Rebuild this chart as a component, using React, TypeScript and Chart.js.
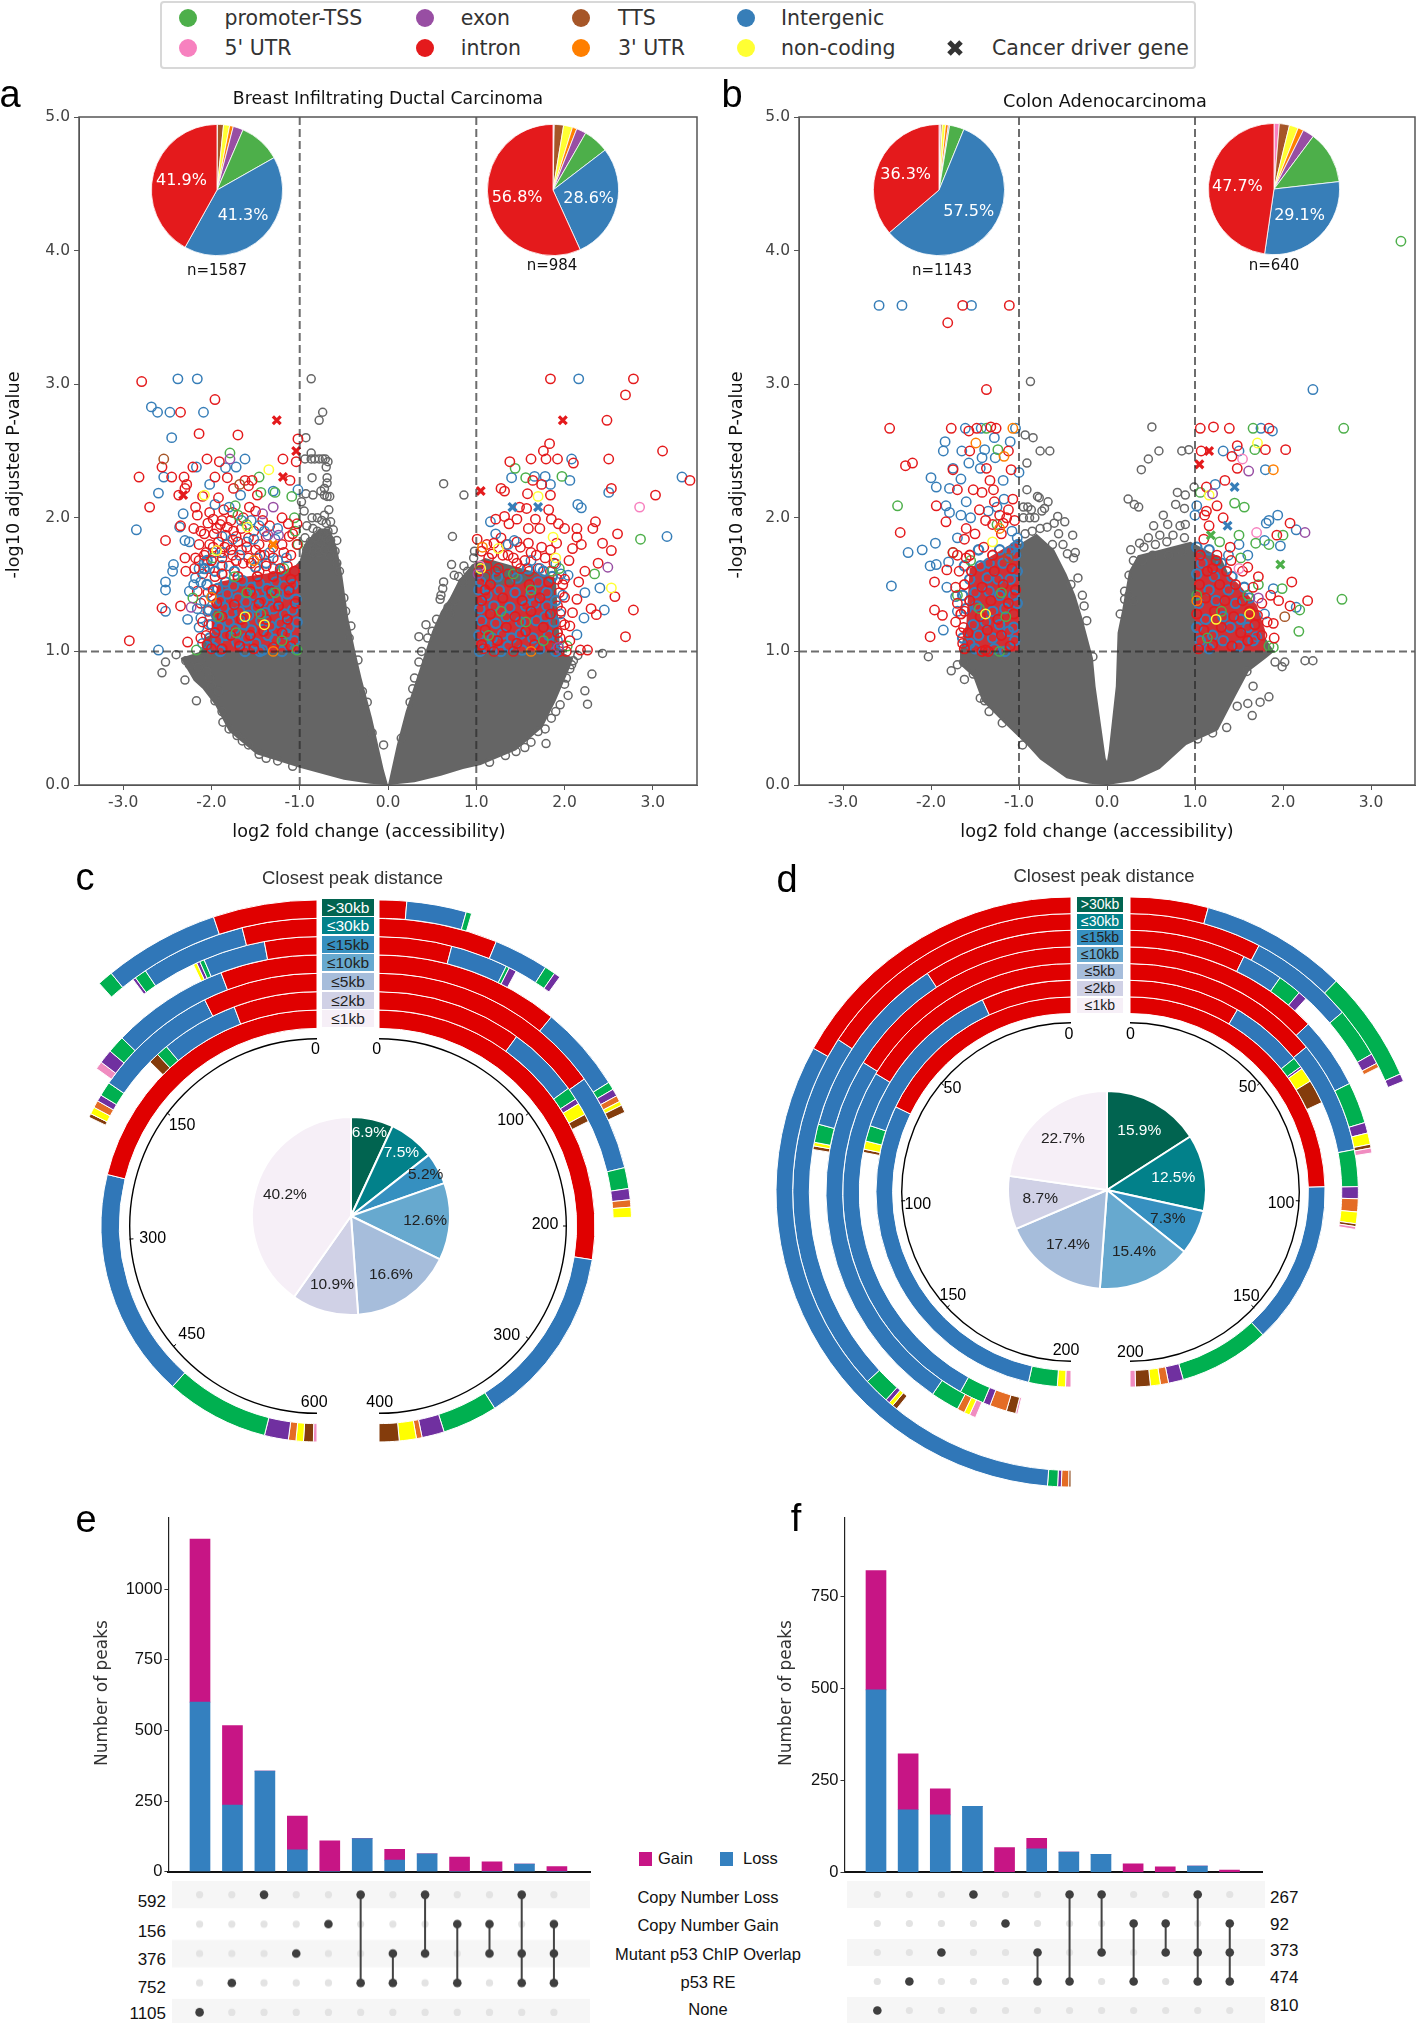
import React, { useEffect, useRef } from "react";
import { Chart, registerables } from "chart.js";
Chart.register(...registerables);

// ---------- colours ----------
const C = { green: "#4daf4a", purple: "#984ea3", brown: "#a65628", blue: "#377eb8", pink: "#f781bf", red: "#e41a1c", orange: "#ff7f00", yellow: "#ffff33", grey: "#666666" };
const pieOrder = [C.pink, C.brown, C.yellow, C.orange, C.purple, C.green, C.blue, C.red];

// ---------- volcano axes ----------
const xTicks = [-3, -2, -1, 0, 1, 2, 3];
const yTicks = [0, 1, 2, 3, 4, 5];

// ---------- panel a : grey mass outline (x,y pairs) ----------
const aLeftTop = [-2.35,.95,-2.12,1,-2.08,1.1,-1.5,1.3,-1,1.68,-.95,1.8,-.78,1.92,-.66,1.92,-.58,1.78,-.52,1.58,-.45,1.25,-.37,1,-.3,.8,-.18,.5,-.05,.12,0,0];
const aLeftLow = [-2.35,.95,-2.2,.78,-2.1,.72,-1.96,.6,-1.8,.4,-1.49,.23,-1,.13,-.5,.04,-.2,.01,0,0];
const aRightTop = [0,0,.1,.3,.2,.55,.3,.75,.4,.95,.5,1.15,.6,1.3,.7,1.4,.8,1.53,.95,1.65,1.1,1.7,1.9,1.55,1.95,1,2.1,.95];
const aRightLow = [0,0,.3,.02,.6,.07,.85,.12,1.05,.15,1.45,.26,1.75,.43,1.9,.63,2.06,.88,2.1,.95];
const aBlockL = [-2.0,1.3,-1.92,1.52,-1.6,1.56,-1.2,1.6,-1,1.66];
const aBlockLBase = [-2.0,1,-1,1];
const aBlockR = [1,1.58,1.2,1.5,1.5,1.5,1.7,1.58,1.86,1.5];
const aBlockRBase = [1,1,1.86,1];

const aGrey = [-.87,3.04,-.74,2.79,-.78,2.73,-.93,2.6,-.87,2.485,-.94,2.44,-.87,2.44,-.83,2.44,-.78,2.44,-.74,2.44,-.71,2.44,-.68,2.42,-.7,2.38,-.86,2.3,-.69,2.3,-.69,2.26,-.72,2.22,-.93,2.18,-.85,2.17,-.76,2.2,-.72,2.17,-.69,2.16,-.66,2.16,-.98,2.12,-.95,2.05,-.67,2.06,-.72,2.02,-.86,2,-.8,2,-.75,1.98,-.7,1.96,-.65,1.97,-.92,1.94,-.85,1.92,-.8,1.9,-.73,1.88,-.68,1.9,-.62,1.91,-.58,1.83,-.94,1.85,-.88,1.82,-.82,1.85,-.76,1.82,-.7,1.85,-.65,1.83,-.6,1.75,-.92,1.76,-.85,1.74,-.78,1.74,-.72,1.76,-.66,1.72,-.58,1.66,-.55,1.6,-.5,1.4,-.48,1.3,-.42,1.19,-.44,1.1,-.34,.935,-.29,.7,-.235,.62,-.18,.39,-.05,.3,
-2.4,.975,-2.52,.92,-2.56,.84,-2.3,.785,-2.17,.63,-2.29,.93,-2.25,.9,-2.12,.94,-2.15,.88,-2.05,.85,-2,.74,-2.02,.8,-1.96,.63,-1.92,.7,-1.88,.55,-1.87,.47,-1.8,.42,-1.71,.37,-1.65,.33,-1.58,.3,-1.46,.23,-1.38,.2,-1.25,.18,-1.08,.14,
.63,2.255,.86,2.17,.73,1.86,.72,1.65,.86,1.64,.97,1.7,.98,1.75,.63,1.52,.59,1.39,.76,1.38,.68,1.33,.55,1.24,.43,1.2,.35,1.11,.62,1.47,.6,1.42,.8,1.56,.75,1.57,.9,1.6,.85,1.52,.7,1.28,.5,1.15,.45,1.1,.38,1,.35,.92,.3,.8,.28,.72,.25,.62,.15,.35,2.43,.985,2.31,.83,2.23,.705,2.26,.605,1.79,.31,2,.755,2.04,.67,1.62,.32,2.08,.9,2.06,.87,2.1,.93,1.95,.6,1.9,.55,1.85,.5,1.78,.42,1.7,.4,1.55,.28,1.45,.25,1.33,.22,1.15,.17,2.15,.97,2.02,.8];

const aRed = [-2.79,3.02,-1.96,2.885,-2.35,2.79,-2.14,2.63,-1.7,2.62,-1.02,2.59,-2.56,2.38,-2.82,2.305,-2.45,2.305,-2.31,2.305,-2.21,2.38,-1.96,2.305,-2.05,2.44,-1.91,2.42,-1.19,2.44,-1.04,2.42,-2.7,2.08,-2.3,2.22,-2.37,2.17,-2.18,2.08,-2.52,1.83,-2.16,2.02,-2.35,1.94,-2.2,1.92,-1.98,1.99,-1.62,2.28,-1.54,2.28,-1.11,2.28,-1.57,2.08,-1.13,1.955,-1.03,1.955,-2.93,1.08,-2.56,1.325,-2.35,1.34,-2.27,1.07,-2.3,1.7,-2.29,1.6,-2.19,1.62,
-2.28,2.25,-2.1,2.16,-1.92,2.15,-1.82,2.3,-1.75,2.22,-1.58,2.24,-1.48,2.17,-1.5,2.05,-2.08,1.88,-1.94,1.92,-1.88,1.98,-1.82,1.93,-1.75,1.9,-1.7,1.82,-1.92,1.82,-2.02,1.8,-1.85,1.78,-1.78,1.76,-1.6,1.78,-1.45,1.72,-1.3,1.7,-1.1,1.72,-1.2,1.8,-1.03,1.8,-2.08,1.72,-2,1.68,-1.88,1.7,-1.72,1.68,-1.55,1.66,-1.38,1.64,-1.22,1.62,-1.06,1.6,
-2.1,1.22,-2.12,1.1,-2.05,1.05,-2,1.02,
1.84,3.04,2.78,3.04,2.69,2.92,2.48,2.73,1.83,2.555,1.76,2.5,1.62,2.44,1.79,2.44,1.92,2.44,1.38,2.42,2.1,2.41,2.5,2.44,3.11,2.5,3.42,2.28,2.53,2.22,3.03,2.17,1.64,2.28,1.74,2.25,1.28,2.22,1.32,2.2,1.58,2.18,1.84,2.17,1.49,2.08,1.57,2.07,1.82,2.06,1.32,2.01,1.22,1.99,1.46,1.99,1.37,1.955,1.67,1.99,1.85,1.99,1.93,1.955,2,1.92,2.14,1.92,2.35,1.97,2.32,1.92,2.6,1.88,1.59,1.92,1.72,1.92,2.14,1.855,2.19,1.8,1.91,1.81,1.59,1.81,1.2,1.81,1.01,1.84,2.43,1.81,2.53,1.755,2.09,1.77,2.05,1.68,2.38,1.66,2.23,1.6,2.16,1.52,2,1.54,2,1.405,2.14,1.39,2.57,1.41,2.3,1.32,2.36,1.275,2.78,1.31,2.69,1.11,2.09,1.29,2.06,1.19,2.06,1.08,2.18,1.01,2.26,1.01,
1.18,1.73,1.3,1.72,1.42,1.7,1.55,1.68,1.68,1.72,1.78,1.7,1.88,1.66,1.03,1.6,1.12,1.64,1.25,1.62,1.5,1.62,1.98,1.5,1.96,1.3,2,1.2,1.95,1.1,2.02,1,1.08,1.02,1.2,1,1.42,1];
const aMidRed = [-2.12,1.9,-2.04,1.96,-1.97,1.88,-1.9,1.95,-1.84,1.87,-1.78,1.98,-1.72,1.86,-1.66,1.92,-1.58,1.85,-1.52,1.9,-1.46,1.8,-1.38,1.86,-1.3,1.78,-1.18,1.74,-1.12,1.86,-2.14,1.8,-2.06,1.74,-1.98,1.78,-1.9,1.74,-1.82,1.8,-1.76,1.72,-1.66,1.76,-1.58,1.7,-1.5,1.76,-1.4,1.72,-2.14,1.68,-2.1,1.58,-2.16,1.45,-2.12,1.36,-2.18,1.7,-2.02,2.04,-1.86,2.06,-1.76,2.04,-1.64,2,-1.42,1.98,-1.34,1.94,-1.2,2,-1.08,1.88,-2.02,1.62,-1.96,1.56,-1.8,1.64,-1.64,1.66,-1.46,1.6,-1.3,1.62,-1.14,1.64,-2.04,1.44,-2.04,1.3,-2.03,1.2,-2.06,1.12,
1.1,1.56,1.22,1.6,1.36,1.58,1.46,1.66,1.6,1.6,1.7,1.62,1.84,1.6,1.92,1.54,1.94,1.44,1.92,1.34,1.96,1.22,1.94,1,1.98,1.04,1.14,1.7,1.36,1.72,1.5,1.78,1.62,1.74,1.74,1.78,1.84,1.76,1.34,1.8,1.46,1.82,1.28,1.85,1.06,1.75,1.12,1.8];
const aRedBlock = [-1.88,1.02,-1.68,1.04,-1.52,1.02,-1.3,1.03,-1.1,1.04,-1.96,1.14,-1.78,1.12,-1.56,1.12,-1.41,1.15,-1.2,1.14,-1.88,1.26,-1.66,1.24,-1.38,1.24,-1.14,1.24,-1.94,1.36,-1.74,1.35,-1.46,1.36,-1.24,1.34,-1.05,1.36,-1.98,1.46,-1.56,1.45,-1.32,1.45,-1.12,1.46,-1.88,1.58,-1.7,1.56,-1.48,1.56,-1.3,1.56,-1.1,1.54,
1.06,1.05,1.24,1.08,1.46,1.06,1.66,1.05,1.84,1.04,1.1,1.16,1.34,1.18,1.56,1.15,1.76,1.18,1.92,1.14,1.16,1.28,1.44,1.26,1.62,1.3,1.84,1.28,1.06,1.38,1.3,1.4,1.52,1.38,1.72,1.4,1.16,1.5,1.38,1.52,1.6,1.5,1.82,1.52,1.1,1.46];
const aBlue = [-2.38,3.04,-2.16,3.04,-2.68,2.83,-2.61,2.79,-2.47,2.79,-2.09,2.79,-2.45,2.6,-1.62,2.44,-2.54,2.305,-2.6,2.185,-2.85,1.91,-2.32,2.03,-2.36,1.93,-2.3,1.83,-2.43,1.65,-2.44,1.6,-2.52,1.52,-2.52,1.46,-2.52,1.3,-2.27,1.24,-2.6,1.01,-2.17,2.38,-1.84,2.375,-1.72,2.38,-2.02,2.25,-1.3,2.2,-1.02,2.21,-1.67,2.17,-1.96,2.1,-1.8,2.08,-2.25,1.82,-2.18,1.55,-2.25,1.45,-2.12,1.52,-1.55,1.98,-1.4,1.9,-1.25,1.92,-1.6,1.82,-1.15,1.7,-1.25,1.68,-2.12,1.25,
-2.14,1.62,-2.08,1.66,-2.2,1.5,-2.16,1.32,-2.14,1.18,-2.08,1.38,-2.1,1.06,-1.98,1.74,-1.86,1.74,-1.68,1.72,-1.48,1.7,-1.34,1.74,-1.76,1.84,-1.52,1.84,-1.28,1.84,-1.88,1.86,-1.46,1.94,-1.66,1.98,
2.16,3.04,3.33,2.305,2.5,2.19,3.16,1.86,2.08,2.44,1.4,2.3,1.66,2.31,1.78,2.31,1.84,2.25,2.06,2.28,2.15,2.1,2.19,2.075,1.16,1.97,1.22,1.88,1.43,1.83,1.36,1.8,2.23,1.44,2.4,1.475,2.45,1.31,2.22,1.25,2.14,1.125,2.04,1.57,1.9,1.655,1.62,1.68,1.72,1.62,1.95,1.28,1.98,1.42,1.96,1.58,1.92,1.08];
const aBlueBlock = [-1.98,1.03,-1.9,1,-1.62,1,-1.45,1,-1.42,1.01,-1.2,1,-1.05,1.02,-2.02,1.1,-1.93,1.08,-1.84,1.12,-1.71,1.07,-1.6,1.1,-1.5,1.06,-1.36,1.12,-1.28,1.09,-1.15,1.13,-1.06,1.08,-2,1.2,-1.91,1.18,-1.8,1.22,-1.74,1.17,-1.63,1.2,-1.55,1.16,-1.44,1.23,-1.33,1.19,-1.22,1.21,-1.12,1.18,-1.03,1.22,-2.03,1.31,-1.95,1.28,-1.86,1.33,-1.77,1.29,-1.68,1.3,-1.58,1.27,-1.49,1.33,-1.39,1.29,-1.3,1.32,-1.17,1.28,-1.08,1.31,-1.99,1.41,-1.9,1.38,-1.82,1.43,-1.7,1.4,-1.61,1.37,-1.52,1.42,-1.42,1.38,-1.34,1.42,-1.25,1.39,-1.14,1.43,-1.04,1.39,-2.05,1.5,-1.93,1.47,-1.84,1.52,-1.75,1.49,-1.65,1.53,-1.55,1.48,-1.46,1.51,-1.37,1.47,-1.27,1.52,-1.18,1.49,-1.08,1.5,-2.08,1.62,-1.96,1.6,-1.88,1.64,-1.74,1.6,-1.5,1.63,-1.38,1.66,-1.22,1.6,-2.05,1.68,
1.04,1,1.12,1.03,1.28,1,1.36,1.04,1.52,1.01,1.72,1.02,1.9,1,1.03,1.12,1.18,1.1,1.3,1.13,1.4,1.1,1.5,1.13,1.64,1.1,1.82,1.12,1.88,1.22,1.06,1.23,1.22,1.21,1.34,1.26,1.5,1.22,1.68,1.23,1.78,1.26,1.04,1.32,1.2,1.34,1.38,1.33,1.56,1.34,1.66,1.36,1.8,1.34,1.9,1.38,1.12,1.42,1.26,1.46,1.44,1.44,1.62,1.42,1.8,1.44,1.05,1.52,1.24,1.56,1.46,1.55,1.7,1.52,1.86,1.56,1.58,1.62,1.76,1.6,1.03,1.46];
const aGreen = [-1.79,2.485,-1.46,2.305,-1.09,2.16,-1.28,2.19,-1.44,2.19,-1.73,2.09,-1.06,2,-1.7,2.02,-1.02,1.8,-2.17,1.01,-2.21,1.4,-1.6,1.95,-1.98,1.7,-1.05,1.9,-1.18,1.62,-1.92,1.26,-1.72,1.14,-1.44,1.28,-1.2,1.08,-1.03,1.01,-1.6,1.44,-1.28,1.44,-1.74,1.56,
1.44,2.37,1.56,2.3,1.97,2.31,2.86,1.84,2.34,1.58,2.03,1.04,1.42,1.58,1.86,1.6,1.56,1.22,1.28,1.3,1.14,1.12,1.76,1.08,1.62,1.46,1.94,1.62];
const aYellow = [-1.35,2.36,-2.08,2.17,-1.59,1.93,-1.94,1.755,-1.4,1.2,-1.62,1.26,1.7,2.16,2.53,1.475,1.87,1.855,1.9,1.7,1.25,1.77,1.05,1.62];
const aPurple = [-1.79,2.44,-1.3,2.08,-1.42,2.03,-1.24,1.87,-2.23,1.33,-1.36,1.87,2.49,1.63,1.93,1.03,1.02,1.58];
const aOrange = [-2,1.405,-1.3,1,1.07,1.78,1.62,1,-1.52,1.68];
const aPink = [2.85,2.08,1.04,1.64];
const aBrown = [-2.54,2.44,-1.68,2.25];
const aXRed = [-1.26,2.73,-1.04,2.5,-1.19,2.305,-2.32,2.17,1.98,2.73,1.05,2.2];
const aXBlue = [1.41,2.08,1.7,2.08];
const aXOrange = [-1.3,1.8];

// ---------- panel b ----------
const bLeftTop = [-1.67,1,-1.6,1.2,-1,1.8,-.8,1.88,-.6,1.76,-.46,1.58,-.36,1.42,-.28,1.25,-.16,.95,-.13,.74,-.015,.2,0,.18];
const bLeftLow = [-1.67,.9,-1.52,.81,-1.42,.63,-1.17,.465,-.91,.3,-.76,.19,-.46,.05,-.2,.01,0,0];
const bRightTop = [0,.18,.02,.26,.1,.74,.12,1.14,.17,1.3,.25,1.6,.35,1.72,.6,1.76,.95,1.82,1.3,1.7,1.5,1.4,1.7,1.2,1.9,1];
const bRightLow = [0,0,.3,.03,.6,.12,.9,.3,1.26,.41,1.46,.665,1.61,.85,1.81,.95,1.9,1];
const bBlockL = [-1.6,1.2,-1.56,1.62,-1.3,1.72,-1,1.84];
const bBlockLBase = [-1.6,1,-1,1];
const bBlockR = [1,1.76,1.3,1.62,1.5,1.5,1.7,1.35,1.8,1.15];
const bBlockRBase = [1,1,1.8,1];
const bGrey = [-.87,3.02,-.93,2.62,-.84,2.6,-.76,2.5,-.65,2.5,-.91,2.41,-.91,2.21,-.79,2.16,-.77,2.15,-.67,2.12,-.71,2.07,-.56,2.01,-.48,1.97,-.39,1.87,-.95,2.08,-.9,2.08,-.86,2.06,-.74,2.05,-.95,2,-.88,2,-.82,2,-.6,1.96,-.76,1.92,-.68,1.93,-.85,1.9,-.55,1.88,-.93,1.88,-.62,1.8,-.5,1.8,-.45,1.73,-.36,1.74,-.38,1.7,-.41,1.5,-.26,1.34,-.23,1.23,-.16,.96,-.33,1.55,-.28,1.42,
.51,2.68,.59,2.5,.47,2.44,.39,2.36,.85,2.5,.93,2.51,.24,2.14,.31,2.1,.36,2.08,.8,2.19,.99,2.23,.89,2.17,.78,2.1,.88,2.07,.64,2.02,.53,1.94,.69,1.95,.83,1.94,.89,1.95,.47,1.85,.6,1.87,.75,1.87,.88,1.85,.37,1.81,.27,1.76,.25,1.57,.2,1.39,.42,1.78,.55,1.8,.68,1.82,.3,1.68,.52,1.72,.7,1.72,.85,1.75,.4,1.68,.2,1.45,.15,1.28,.25,1.42,.3,1.38,
-2.03,.96,-1.77,.855,-1.7,.9,-1.63,.92,-1.62,.79,-1.52,.83,-1.44,.65,-1.39,.63,-1.34,.55,-1.19,.465,-.96,.3,
2.25,.93,2.34,.93,2.02,.92,1.91,.92,1.99,.885,1.84,.66,1.74,.62,1.65,.52,1.6,.61,1.48,.59,1.66,.74,1.59,.85,1.36,.43,1.2,.39,1.03,.345];
const bRed = [-1.64,3.59,-1.11,3.59,-1.81,3.46,-1.37,2.96,-2.47,2.67,-2.29,2.39,-2.21,2.41,-2.35,1.89,-1.82,1.61,-1.96,1.52,-1.96,1.31,-1.87,1.27,-2.01,1.11,-1.72,1.48,-1.7,2.21,-1.94,2.09,-1.83,1.97,-1.75,1.74,-1.77,2.67,-1.57,2.65,-1.48,2.67,-1.32,2.68,-1.26,2.67,-1.56,2.5,-1.12,2.5,-1.75,2.36,-1.37,2.37,-1.33,2.28,-1.09,2.36,-1.29,2.21,-1.52,2.21,-1.42,2.19,-1.07,2.14,-1.22,2.02,-1.45,2.06,-1.3,1.95,-1.12,2.06,-1.5,1.88,-1.2,1.88,-1.05,1.98,-1.62,1.84,-1.4,1.78,-1.7,1.72,-1.6,1.7,-1.68,1.6,-1.7,1.36,-1.72,1.22,-1.66,1.14,-1.18,1.96,-1.6,1.92,-1.38,1.98,-1.14,2,-1.28,2.12,-1.62,1.3,-1.63,1.18,-1.64,1.06,
1.06,2.67,1.21,2.68,1.39,2.67,1.84,2.67,1.48,2.54,2.03,2.51,1.07,2.5,1.42,2.46,1.48,2.37,1.34,2.28,1.13,2.23,1.25,2.09,1.13,2.05,1.11,2.02,1.32,2,2.08,1.96,1.93,1.87,1.16,1.94,2.1,1.52,2.28,1.38,1.86,1.42,1.95,1.38,2.08,1.34,1.89,1.21,1.71,1.27,1.6,1.63,1.41,1.68,1.8,2.51,1.1,1.84,1.25,1.72,1.4,1.78,1.2,1.62,1.54,1.6,1.66,1.48,1.76,1.36,1.82,1.22,1.76,1.12,1.9,1.1,1.72,1.56];
const bRedBlock = [-1.62,1.02,-1.42,1,-1.38,1.01,-1.35,1,-1.1,1.04,-1.58,1.14,-1.36,1.16,-1.2,1.12,-1.66,1.28,-1.44,1.26,-1.24,1.24,-1.06,1.28,-1.56,1.38,-1.32,1.38,-1.12,1.36,-1.62,1.5,-1.42,1.48,-1.18,1.5,-1.04,1.46,-1.54,1.6,-1.28,1.6,-1.08,1.62,-1.56,1.72,-1.3,1.72,
1.04,1.02,1.2,1.05,1.42,1.04,1.6,1.08,1.1,1.16,1.3,1.18,1.52,1.14,1.68,1.2,1.02,1.28,1.22,1.3,1.44,1.26,1.62,1.3,1.12,1.4,1.34,1.38,1.54,1.38,1.05,1.5,1.28,1.5,1.46,1.5,1.14,1.6,1.36,1.6,1.06,1.72,1.24,1.68];
const bBlue = [-2.59,3.59,-2.33,3.59,-1.54,3.59,-2.26,1.74,-2.1,1.76,-1.95,1.81,-2.01,1.64,-1.94,1.65,-1.8,1.67,-2.45,1.49,-1.82,1.48,-1.86,1.16,-1.72,1.41,-1.7,1.3,-2,2.3,-1.94,2.23,-1.79,2.22,-1.83,2.09,-1.79,2.04,-1.66,2.02,-1.61,2.67,-1.43,2.67,-1.04,2.67,-1.84,2.57,-1.86,2.5,-1.65,2.5,-1.39,2.51,-1.28,2.6,-1.1,2.57,-1.27,2.45,-1.42,2.45,-1.57,2.41,-1.75,2.37,-1.66,2.29,-1.44,2.37,-1,2.34,-1.18,2.28,-1.17,2.14,-1.6,2.12,-1.35,2.05,-1.25,2.08,-1.08,1.9,-1.02,1.85,-1.05,1.78,-1.55,2,-1.7,1.85,
2.34,2.96,1.75,2.67,1.88,2.65,1.32,2.5,1.5,2.5,1.8,2.36,1.23,2.25,1.02,2.09,1.94,2.02,1.84,1.98,2.15,1.91,1.81,1.96,1.97,1.79,1.79,1.83,1.89,1.47,2.15,1.33,1.7,1.11,1.79,1.28,1,2.02,1.38,1.72,1.5,1.8,1.6,1.72];
const bBlueBlock = [-1.56,1.06,-1.5,1.02,-1.28,1.02,-1.16,1,-1.05,1.08,-1.64,1.1,-1.46,1.12,-1.3,1.1,-1.12,1.15,-1.52,1.2,-1.38,1.22,-1.22,1.2,-1.06,1.18,-1.6,1.32,-1.48,1.34,-1.3,1.3,-1.16,1.32,-1.02,1.36,-1.64,1.42,-1.5,1.44,-1.34,1.45,-1.22,1.42,-1.06,1.42,-1.56,1.54,-1.36,1.55,-1.24,1.54,-1.1,1.54,-1.62,1.64,-1.44,1.64,-1.34,1.66,-1.18,1.66,-1.02,1.6,-1.46,1.76,-1.22,1.76,-1.1,1.75,-1.04,1.72,-1.01,1.8,
1.06,1.08,1.16,1.02,1.32,1.08,1.5,1.04,1.66,1.08,1.02,1.18,1.2,1.12,1.4,1.18,1.6,1.18,1.12,1.24,1.32,1.26,1.52,1.24,1.04,1.36,1.24,1.38,1.46,1.36,1.62,1.4,1.16,1.46,1.38,1.46,1.56,1.48,1.02,1.58,1.22,1.56,1.42,1.56,1.08,1.66,1.3,1.66,1.02,1.78,1.16,1.76];
const bGreen = [-2.38,2.09,-1.37,2.67,-1.24,2.51,-1.75,1.74,-1.7,1.42,-1.25,1.95,-1.22,1,-1.45,1.32,-1.2,1.44,-1.55,1.68,-1.15,1.26,
3.34,4.07,2.69,2.67,2.67,1.39,1.66,2.67,1.68,2.51,1.06,2.19,1.45,2.11,1.56,2.08,1.5,1.87,1.69,1.81,1.84,1.8,2,1.87,1.99,1.47,2.19,1.31,2.18,1.15,1.84,1.04,1.89,1.03,1.02,1.42,1.6,1.42,1.3,1.3,1.14,1.1,1.52,1.7,1.28,1.82,1.72,1.5];
const bYellow = [-1.3,1.82,-1.38,1.28,1.71,2.56,1.16,2.17,1.62,1.28,1.24,1.24];
const bPurple = [1.61,2.35,2.25,1.89,1.2,2.18,1.72,1.4];
const bOrange = [-1.07,2.67,-1.49,2.56,-1.17,2.46,-1.22,1.92,1.89,2.36,1.02,1.38];
const bPink = [1.54,2.44,1.7,1.89,1.5,1.62];
const bBrown = [2.02,1.26,-1.12,1.7];
const bXRed = [1.05,2.4,1.16,2.5];
const bXBlue = [1.45,2.23,1.37,1.94];
const bXGreen = [1.18,1.87,1.97,1.65];

// ---------- annotation pies: pink, brown, yellow, orange, purple, green, blue, red ----------
const pieAL = [.1,1.5,1.5,.9,2.5,10.3,41.3,41.9];
const pieAR = [.3,2.3,2.2,1.1,2.4,6.3,28.6,56.8];
const pieBL = [.4,.4,.8,.7,.3,3.6,57.5,36.3];
const pieBR = [1.3,2.5,2.2,1.4,2.8,13,29.1,47.7];

// ---------- distance rings (outer >30kb ... inner <=1kb) ----------
const ringLabels = [">30kb", "≤30kb", "≤15kb", "≤10kb", "≤5kb", "≤2kb", "≤1kb"];
const ringKbColors = ["#016450", "#02818a", "#3690c0", "#67a9cf", "#a6bddb", "#d0d1e6", "#f6eff7"];
const ringSegColors = ["#e00000", "#3077b8", "#00b050", "#7030a0", "#e46c25", "#ffff00", "#843c0c", "#f08cc0"];
const kbDarkText = ["#fff", "#fff", "#222", "#222", "#222", "#222", "#222"];

const cRightIntron = [10.9,49.8,32.4,87.8,120.9,80,220];
const cRightInterg = [23.6,23,25.6,41.1,49.4,40,108];
const cRightPromo = [2.2,4.5,1.5,3.8,10.7,7,33];
const cRightExon = [0,2.7,3.4,3.5,5.7,3,13.4];
const cRightUtr3 = [0,0,0,3,3.8,0,3.4];
const cRightNon = [0,0,0,2,5.1,6.8,10.2];
const cRightTts = [0,0,0,3.6,0,4.2,12];
const cRightUtr5 = [0,0,0,0,0,0,0];
const cLeftIntron = [61.7,47,35,69.2,88,69,254];
const cLeftInterg = [68.8,66,41.6,84.3,97,64.3,206];
const cLeftPromo = [9.2,7.6,3.1,12.5,11,9.7,93];
const cLeftExon = [0,1.9,2.2,10,5,0,21.5];
const cLeftUtr3 = [0,0,0,0,5.6,0,6.8];
const cLeftNon = [0,0,2.5,0,5.4,0,6.7];
const cLeftTts = [0,0,0,0,3,8.7,8.8];
const cLeftUtr5 = [0,0,0,5.6,0,0,3.2];

const dRightIntron = [17.1,30.7,28.7,51.9,56.2,33.9,98.3];
const dRightInterg = [32.2,24.6,10.2,18.9,31.9,22.6,54];
const dRightPromo = [24.5,11.7,5.9,10.9,10.4,3.2,30.1];
const dRightExon = [1.7,2.4,2.2,2.8,3.4,.7,4.9];
const dRightUtr3 = [0,1,0,0,3.7,0,2.7];
const dRightNon = [0,0,0,3,3.3,4.5,3.3];
const dRightTts = [0,0,0,1,.8,7.3,4.9];
const dRightUtr5 = [0,0,0,1.3,.8,0,1.8];
const dLeftIntron = [67.6,63.1,37,64.5,65.3,27.5,71.2];
const dLeftInterg = [127.3,84.6,46.3,97.3,102.5,52.2,114.8];
const dLeftPromo = [2.2,6,4.5,7.5,7.1,4.8,9.5];
const dLeftExon = [.8,1,0,0,2,0,0];
const dLeftUtr3 = [1.6,0,0,2,4.8,0,0];
const dLeftNon = [0,1,.9,1.5,0,2.5,2.7];
const dLeftTts = [.5,1.2,.9,0,2.7,1,0];
const dLeftUtr5 = [0,0,0,1.7,.6,0,1.8];

const cKbPie = [6.9,7.5,5.2,12.6,16.6,10.9,40.2];
const dKbPie = [15.9,12.5,7.3,15.4,17.4,8.7,22.7];

// ---------- upset ----------
const eLoss = [600,236,356,77,0,117,41,63,0,0,27,0];
const eGain = [577,281,0,120,109,0,38,0,52,35,0,18];
const fLoss = [496,170,156,179,0,64,55,49,0,0,17,0];
const fGain = [324,152,71,0,67,28,0,0,23,15,0,6];
const eTicks = [0,250,500,750,1000];
const fTicks = [0,250,500,750];
const setNames = ["Copy Number Loss", "Copy Number Gain", "Mutant p53 ChIP Overlap", "p53 RE", "None"];
const eSizes = [592,156,376,752,1105];
const fSizes = [267,92,373,474,810];
const eMembers = [[4],[3],[0],[2],[1],[0,3],[2,3],[0,2],[1,3],[1,2],[0,2,3],[1,2,3]];
const fMembers = [[4],[3],[2],[0],[1],[2,3],[0,3],[0,2],[1,3],[1,2],[0,2,3],[1,2,3]];

// ---------- helpers ----------
const pairs = (f: number[]) => { const o: any[] = []; for (let i = 0; i < f.length; i += 2) o.push({ x: f[i], y: f[i + 1] }); return o; };

function Box({ x, y, w, h, make }: any) {
  const ref = useRef<HTMLCanvasElement>(null);
  useEffect(() => {
    const chart = new Chart(ref.current as any, make());
    return () => chart.destroy();
  }, []);
  return <canvas ref={ref} width={w} height={h} style={{ position: "absolute", left: x, top: y, width: w, height: h }} />;
}

function T({ x, y, s, f = "DejaVu Sans", c = "#111", a = "c", r = 0, sx = 1, w = 400, children }: any) {
  const tx = a === "c" ? "-50%" : a === "r" ? "-100%" : "0";
  return <div style={{ position: "absolute", left: x, top: y, transform: `translate(${tx},-50%) rotate(${r}deg) scaleX(${sx})`, font: `${w} ${s}px "${f}"`, color: c, whiteSpace: "nowrap", lineHeight: 1 }}>{children}</div>;
}

const fixScale = (w: number | null, h: number | null) => (s: any) => {
  if (w !== null) s.width = w;
  if (h !== null) s.height = h;
  s.paddingTop = 0; s.paddingBottom = 0; s.paddingLeft = 0; s.paddingRight = 0;
};

const frame = { id: "frame", afterDraw(ch: any) {
  const { ctx, chartArea: a } = ch; ctx.save(); ctx.strokeStyle = "#555"; ctx.lineWidth = 1.5;
  ctx.strokeRect(a.left, a.top, a.right - a.left, a.bottom - a.top); ctx.restore();
} };

function volcanoConfig(p: any, padRight: number) {
  const ds: any[] = [];
  const band = (up: number[], low: number[], color: string, order: number) => {
    const i = ds.length;
    ds.push({ data: pairs(up), showLine: true, pointRadius: 0, borderWidth: 0, backgroundColor: color, fill: { target: i + 1 }, order });
    ds.push({ data: pairs(low), showLine: true, pointRadius: 0, borderWidth: 0, fill: false, order: order + 1 });
  };
  const rings = (d: number[], color: string, order: number, r = 4.7, bw = 1.5) => ds.push({ data: pairs(d), pointRadius: r, pointBorderWidth: bw, pointBackgroundColor: "rgba(0,0,0,0)", pointBorderColor: color, order });
  const cross = (d: number[], color: string, order: number) => ds.push({ data: pairs(d), pointStyle: "crossRot", pointRadius: 5.5, pointBorderWidth: 3.2, pointBorderColor: color, order });
  const dash = (d: number[]) => ds.push({ data: pairs(d), showLine: true, pointRadius: 0, borderColor: "rgba(40,40,40,.68)", borderWidth: 2, borderDash: [8, 4], order: 1 });
  dash([-1, 0, -1, 5]); dash([1, 0, 1, 5]); dash([-3.5, 1, 3.5, 1]);
  p.x.forEach((q: any, i: number) => cross(q[0], q[1], 2 + i));
  rings(p.redTop, C.red, 9);
  rings(p.purple, C.purple, 8); rings(p.yellow, C.yellow, 8); rings(p.orange, C.orange, 8); rings(p.pink, C.pink, 8); rings(p.brown, C.brown, 8);
  rings(p.green, C.green, 10); rings(p.redBlock, C.red, 10, 4.7, 1.8); rings(p.blueBlock, C.blue, 11, 4.7, 2.2); rings(p.blue, C.blue, 11);
  if (p.midRed) rings(p.midRed, C.red, 12);
  rings(p.grey, "#666", 15, 4);
  p.blocks.forEach((b: any, i: number) => band(b[0], b[1], "#d03035", 20 + i * 2));
  band(p.lobes[0], p.lobes[1], "#656565", 30); band(p.lobes[2], p.lobes[3], "#656565", 32);
  const tick = { color: "#444", font: { family: "DejaVu Sans", size: 15.5 }, padding: 4 };
  const grid = { display: true, drawOnChartArea: false, drawTicks: true, tickLength: 5, color: "#555" };
  return {
    type: "scatter", data: { datasets: ds }, plugins: [frame],
    options: {
      responsive: false, animation: false, layout: { autoPadding: false, padding: { top: 17, right: padRight, left: 0, bottom: 0 } },
      plugins: { legend: { display: false }, tooltip: { enabled: false } },
      scales: {
        x: { type: "linear", min: -3.5, max: 3.5, grid, border: { color: "#555" }, afterBuildTicks: (s: any) => { s.ticks = xTicks.map(value => ({ value })); }, ticks: { ...tick, callback: (v: any) => Number(v).toFixed(1) }, afterFit: fixScale(null, 85) },
        y: { type: "linear", min: 0, max: 5, grid, border: { color: "#555" }, afterBuildTicks: (s: any) => { s.ticks = yTicks.map(value => ({ value })); }, ticks: { ...tick, callback: (v: any) => Number(v).toFixed(1) }, afterFit: fixScale(79, null) },
      },
    },
  };
}

function pieConfig(values: number[], colors: string[], labels: string[], textColors: any, frac: number[], font: string, border: number) {
  const text = { id: "pieText", afterDatasetsDraw(ch: any) {
    const { ctx } = ch; ctx.save(); ctx.font = font; ctx.textAlign = "center"; ctx.textBaseline = "middle";
    ch.getDatasetMeta(0).data.forEach((arc: any, i: number) => {
      if (!labels[i]) return;
      const g = arc.getProps(["x", "y", "startAngle", "endAngle", "outerRadius"], true);
      const m = (g.startAngle + g.endAngle) / 2;
      ctx.fillStyle = textColors[i];
      ctx.fillText(labels[i], g.x + Math.cos(m) * g.outerRadius * frac[i], g.y + Math.sin(m) * g.outerRadius * frac[i]);
    });
    ctx.restore();
  } };
  return {
    type: "pie", data: { labels: values.map(String), datasets: [{ data: values, backgroundColor: colors, borderColor: "#fff", borderWidth: border }] }, plugins: [text],
    options: { responsive: false, animation: false, plugins: { legend: { display: false }, tooltip: { enabled: false } } },
  };
}

function halfRings(side: string, cols: number[][], axisMax: number, R: number, cut: number) {
  const n = cols[0].length;
  const datasets: any[] = [];
  for (let r = 0; r < n; r++) {
    const vals = cols.map(c => c[r]);
    const rest = Math.max(axisMax - vals.reduce((a, b) => a + b, 0), 0);
    let data = [...vals, rest];
    let bg = [...ringSegColors, "rgba(0,0,0,0)"];
    let bc = [...ringSegColors.map(() => "#fff"), "rgba(0,0,0,0)"];
    if (side === "l") { data = data.reverse(); bg = bg.reverse(); bc = bc.reverse(); }
    datasets.push({ data, backgroundColor: bg, borderColor: bc, borderWidth: 1 });
  }
  return {
    type: "doughnut", data: { datasets },
    options: { responsive: false, animation: false, radius: R, cutout: (cut / R * 100) + "%", rotation: side === "l" ? 180 : 0, circumference: 180, plugins: { legend: { display: false }, tooltip: { enabled: false } } },
  };
}

function axisRing(side: string, R: number, tickAngles: number[]) {
  const marks = { id: "marks", afterDatasetsDraw(ch: any) {
    const a = ch.getDatasetMeta(0).data[0]; const { ctx } = ch;
    ctx.save(); ctx.strokeStyle = "#000"; ctx.lineWidth = 1;
    tickAngles.forEach(t => {
      const q = (side === "l" ? -t : t) * Math.PI / 180;
      ctx.beginPath(); ctx.moveTo(a.x + Math.sin(q) * R, a.y - Math.cos(q) * R); ctx.lineTo(a.x + Math.sin(q) * (R - 4), a.y - Math.cos(q) * (R - 4)); ctx.stroke();
    });
    ctx.restore();
  } };
  return {
    type: "doughnut", data: { datasets: [{ data: [1], backgroundColor: ["#000"], borderWidth: 0 }] }, plugins: [marks],
    options: { responsive: false, animation: false, radius: R, cutout: ((R - 1.4) / R * 100) + "%", rotation: side === "l" ? 180 : 0, circumference: 180, plugins: { legend: { display: false }, tooltip: { enabled: false } } },
  };
}

function barConfig(loss: number[], gain: number[], ticks: number[], yMax: number, xMin: number, xMax: number, yw: number, padBottom: number) {
  const mk = (d: number[], c: string) => ({ data: d.map((y, x) => ({ x, y })), backgroundColor: c, barThickness: 20 });
  const font = { family: "Liberation Sans", size: 16.5 };
  return {
    type: "bar", data: { datasets: [{ label: "Loss", ...mk(loss, "#3480bf") }, { label: "Gain", ...mk(gain, "#c71585") }] },
    options: {
      responsive: false, animation: false, layout: { autoPadding: false, padding: { top: 8, bottom: padBottom, right: 10 } },
      plugins: { legend: { display: false }, tooltip: { enabled: false } },
      scales: {
        x: { type: "linear", offset: false, stacked: true, min: xMin, max: xMax, grid: { display: false }, border: { color: "#111", width: 2 }, ticks: { display: false }, afterFit: fixScale(null, 2) },
        y: { stacked: true, min: 0, max: yMax, grid: { display: true, drawOnChartArea: false, tickLength: 4, color: "#333" }, border: { color: "#222", width: 1.2 }, afterBuildTicks: (s: any) => { s.ticks = ticks.map(value => ({ value })); }, ticks: { color: "#111", font, padding: 2, callback: (v: any) => String(v) }, afterFit: fixScale(yw, null) },
      },
    },
  };
}

function dotsConfig(members: number[][], xMin: number, xMax: number) {
  const ds: any[] = [];
  members.forEach((m, i) => {
    if (m.length > 1) ds.push({ data: [{ x: i, y: Math.min(...m) }, { x: i, y: Math.max(...m) }], showLine: true, pointRadius: 0, borderColor: "#444", borderWidth: 2, order: 2 });
  });
  const dark: any[] = [], light: any[] = [];
  members.forEach((m, i) => { for (let r = 0; r < 5; r++) (m.includes(r) ? dark : light).push({ x: i, y: r }); });
  ds.push({ data: dark, pointRadius: 4.3, pointBackgroundColor: "#3f3f3f", pointBorderWidth: 0, order: 1 });
  ds.push({ data: light, pointRadius: 3.6, pointBackgroundColor: "#e3e3e3", pointBorderWidth: 0, order: 3 });
  [0, 2, 4].forEach(r => ds.push({ data: [{ x: xMin, y: r }, { x: xMax, y: r }], showLine: true, pointRadius: 0, borderColor: "#f6f6f6", borderWidth: 27, order: 5 }));
  return {
    type: "scatter", data: { datasets: ds },
    options: {
      responsive: false, animation: false, layout: { autoPadding: false }, plugins: { legend: { display: false }, tooltip: { enabled: false } },
      scales: { x: { type: "linear", display: false, min: xMin, max: xMax }, y: { type: "linear", display: false, min: -.5, max: 4.5, reverse: true } },
    },
  };
}

const legendRows = [
  [[188, C.green, 224.5, "promoter-TSS"], [424.5, C.purple, 460.7, "exon"], [581, C.brown, 618, "TTS"], [746, C.blue, 781, "Intergenic"]],
  [[188, C.pink, 224.5, "5' UTR"], [424.5, C.red, 460.7, "intron"], [581, C.orange, 618, "3' UTR"], [746, C.yellow, 781, "non-coding"]],
];

const aPanel = { lobes: [aLeftTop, aLeftLow, aRightTop, aRightLow], blocks: [[aBlockL, aBlockLBase], [aBlockR, aBlockRBase]], grey: aGrey, redTop: aRed, midRed: aMidRed, redBlock: aRedBlock, blue: aBlue, blueBlock: aBlueBlock, green: aGreen, yellow: aYellow, purple: aPurple, orange: aOrange, pink: aPink, brown: aBrown, x: [[aXRed, C.red], [aXBlue, C.blue], [aXOrange, C.orange]] };
const bPanel = { lobes: [bLeftTop, bLeftLow, bRightTop, bRightLow], blocks: [[bBlockL, bBlockLBase], [bBlockR, bBlockRBase]], grey: bGrey, redTop: bRed, redBlock: bRedBlock, blue: bBlue, blueBlock: bBlueBlock, green: bGreen, yellow: bYellow, purple: bPurple, orange: bOrange, pink: bPink, brown: bBrown, x: [[bXRed, C.red], [bXBlue, C.blue], [bXGreen, C.green]] };

function MiniPie({ cx, cy, vals }: any) {
  const labels = vals.map((v: number, i: number) => (i >= 6 ? v.toFixed(1) + "%" : ""));
  return <Box x={cx - 66} y={cy - 66} w={132} h={132} make={() => pieConfig(vals, pieOrder, labels, vals.map(() => "#fff"), vals.map(() => .56), '16px "DejaVu Sans"', .8)} />;
}

const pct = (v: number[]) => v.map(x => x.toFixed(1) + "%");
const SANS = "Liberation Sans";

export default function App() {
  const cL = [cLeftIntron, cLeftInterg, cLeftPromo, cLeftExon, cLeftUtr3, cLeftNon, cLeftTts, cLeftUtr5];
  const cR = [cRightIntron, cRightInterg, cRightPromo, cRightExon, cRightUtr3, cRightNon, cRightTts, cRightUtr5];
  const dL = [dLeftIntron, dLeftInterg, dLeftPromo, dLeftExon, dLeftUtr3, dLeftNon, dLeftTts, dLeftUtr5];
  const dR = [dRightIntron, dRightInterg, dRightPromo, dRightExon, dRightUtr3, dRightNon, dRightTts, dRightUtr5];
  return (
    <div style={{ position: "absolute", left: 0, top: 0, width: 1417, height: 2023, overflow: "hidden", background: "#fff" }}>
      {/* legend */}
      <div style={{ position: "absolute", left: 160, top: 1, width: 1032, height: 64, border: "2px solid #d8d8d8", borderRadius: 4 }} />
      {legendRows.map((row, ri) => row.map((e: any) => (
        <React.Fragment key={e[3]}>
          <div style={{ position: "absolute", left: e[0] - 9, top: (ri ? 48 : 18) - 9, width: 18, height: 18, borderRadius: 9, background: e[1] }} />
          <T x={e[2]} y={ri ? 48 : 18} s={20.5} a="l" c="#333">{e[3]}</T>
        </React.Fragment>
      )))}
      <svg style={{ position: "absolute", left: 946, top: 39 }} width="18" height="18"><path d="M3 3L15 15M15 3L3 15" stroke="#333" strokeWidth="5" /></svg>
      <T x={992} y={48} s={20.5} a="l" c="#333">Cancer driver gene</T>

      {/* volcanoes */}
      <Box x={0} y={100} w={720} h={770} make={() => volcanoConfig(aPanel, 23)} />
      <Box x={720} y={100} w={697} h={770} make={() => volcanoConfig(bPanel, 2)} />
      <MiniPie cx={217} cy={190} vals={pieAL} />
      <MiniPie cx={553} cy={190} vals={pieAR} />
      <MiniPie cx={939} cy={190} vals={pieBL} />
      <MiniPie cx={1274} cy={189} vals={pieBR} />
      <T x={217} y={270} s={15}>n=1587</T><T x={552} y={265} s={15}>n=984</T>
      <T x={942} y={270} s={15}>n=1143</T><T x={1274} y={265} s={15}>n=640</T>
      <T x={388} y={98} s={18} sx={.96}>Breast Infiltrating Ductal Carcinoma</T>
      <T x={1105} y={102} s={17.7}>Colon Adenocarcinoma</T>
      <T x={369} y={831} s={18.5} sx={.95}>log2 fold change (accessibility)</T>
      <T x={1097} y={831} s={18.5} sx={.95}>log2 fold change (accessibility)</T>
      <T x={14} y={475} s={17.6} r={-90}>-log10 adjusted P-value</T>
      <T x={737} y={475} s={17.6} r={-90}>-log10 adjusted P-value</T>

      {/* panel c rings */}
      <Box x={378.5} y={1226 - 326} w={326} h={652} make={() => halfRings("r", cR, 400, 326, 197.6)} />
      <Box x={316.5 - 326} y={1226 - 326} w={326} h={652} make={() => halfRings("l", cL, 600, 326, 197.6)} />
      <Box x={378.5} y={1226 - 188} w={188} h={376} make={() => axisRing("r", 188, [53, 90, 127])} />
      <Box x={316.5 - 188} y={1226 - 188} w={188} h={376} make={() => axisRing("l", 188, [53, 94, 130])} />
      <Box x={351 - 100} y={1216 - 100} w={200} h={200} make={() => pieConfig(cKbPie, ringKbColors, pct(cKbPie), kbDarkText, [.86,.82,.86,.75,.72,.72,.7], '15.5px "Liberation Sans"', 2)} />
      {ringLabels.map((t, i) => (
        <div key={t} style={{ position: "absolute", left: 322, top: [907.5, 925.8, 944.2, 962.6, 981.3, 1000.4, 1018.4][i] - 8.5, width: 52, height: 17, background: ringKbColors[i], color: kbDarkText[i], font: `15.5px "${SANS}"`, textAlign: "center", lineHeight: "17px" }}>{t}</div>
      ))}
      {[["0",315.4,1048.7],["0",376.6,1049.4],["100",510.5,1120],["200",545,1223.6],["300",506.7,1334.5],["400",379.7,1401.5],["150",182,1124.8],["300",152.7,1237.7],["450",191.7,1333.8],["600",314.2,1401.5]].map((q: any, i) => <T key={i} x={q[1]} y={q[2]} s={16} f={SANS} c="#000">{q[0]}</T>)}
      <T x={352.5} y={878} s={18.5} f={SANS} c="#333">Closest peak distance</T>

      {/* panel d rings */}
      <Box x={1130} y={1192 - 295} w={295} h={590} make={() => halfRings("r", dR, 200, 295, 178.4)} />
      <Box x={1071.2 - 295} y={1192 - 295} w={295} h={590} make={() => halfRings("l", dL, 200, 295, 178.4)} />
      <Box x={1130} y={1192 - 170} w={170} h={340} make={() => axisRing("r", 170, [50, 93, 133])} />
      <Box x={1071.2 - 170} y={1192 - 170} w={170} h={340} make={() => axisRing("l", 170, [50, 93, 133])} />
      <Box x={1106.7 - 100} y={1190 - 100} w={200} h={200} make={() => pieConfig(dKbPie, ringKbColors, pct(dKbPie), kbDarkText, dKbPie.map(() => .68), '15.5px "Liberation Sans"', 2)} />
      {ringLabels.map((t, i) => (
        <div key={t} style={{ position: "absolute", left: 1077, top: [904, 921, 937.5, 954.7, 971.4, 988.6, 1005.3][i] - 7.5, width: 46, height: 15, background: ringKbColors[i], color: kbDarkText[i], font: `14px "${SANS}"`, textAlign: "center", lineHeight: "15px" }}>{t}</div>
      ))}
      {[["0",1069,1034.3],["0",1130.4,1034.3],["50",952.4,1087.8],["50",1247.6,1086.5],["100",917.8,1203.7],["100",1281,1202.9],["150",952.9,1294.7],["150",1246.3,1296],["200",1066,1349.8],["200",1130.4,1351.8]].map((q: any, i) => <T key={i} x={q[1]} y={q[2]} s={16} f={SANS} c="#000">{q[0]}</T>)}
      <T x={1104} y={876} s={18.5} f={SANS} c="#333">Closest peak distance</T>

      {/* upset e */}
      <Box x={0} y={1510} w={600} h={368} make={() => barConfig(eLoss, eGain, eTicks, 1252, -.974, 12.02, 168.4, 4.3)} />
      <Box x={172} y={1880.3} w={418} h={146.5} make={() => dotsConfig(eMembers, -.857, 12.12)} />
      <T x={100.6} y={1693} s={17} r={-90} c="#333">Number of peaks</T>
      {eSizes.map((v, i) => <T key={i} x={166} y={[1901, 1931, 1959, 1987, 2013][i]} s={17} f={SANS} a="r">{v}</T>)}
      {setNames.map((t, i) => <T key={t} x={708} y={[1897, 1925, 1954, 1982, 2009][i]} s={16.5} f={SANS}>{t}</T>)}
      <div style={{ position: "absolute", left: 639, top: 1852, width: 13, height: 14, background: "#c71585" }} />
      <T x={658} y={1858} s={16.5} f={SANS} a="l">Gain</T>
      <div style={{ position: "absolute", left: 720, top: 1852, width: 13, height: 14, background: "#3480bf" }} />
      <T x={743} y={1858} s={16.5} f={SANS} a="l">Loss</T>

      {/* upset f */}
      <Box x={680} y={1510} w={592} h={368} make={() => barConfig(fLoss, fGain, fTicks, 963, -.98, 12.01, 164.5, 3.7)} />
      <Box x={847} y={1879.9} w={418} h={145} make={() => dotsConfig(fMembers, -.947, 12.1)} />
      <T x={784.6} y={1693} s={17} r={-90} c="#333">Number of peaks</T>
      {fSizes.map((v, i) => <T key={i} x={1270} y={[1897, 1924, 1950, 1977, 2005][i]} s={17} f={SANS} a="l">{v}</T>)}

      {/* panel letters */}
      {[["a",10,94],["b",732,94],["c",85,877],["d",787,879],["e",86,1519],["f",796,1518]].map((q: any) => <T key={q[0]} x={q[1]} y={q[2]} s={38} f={SANS} c="#000">{q[0]}</T>)}
    </div>
  );
}
